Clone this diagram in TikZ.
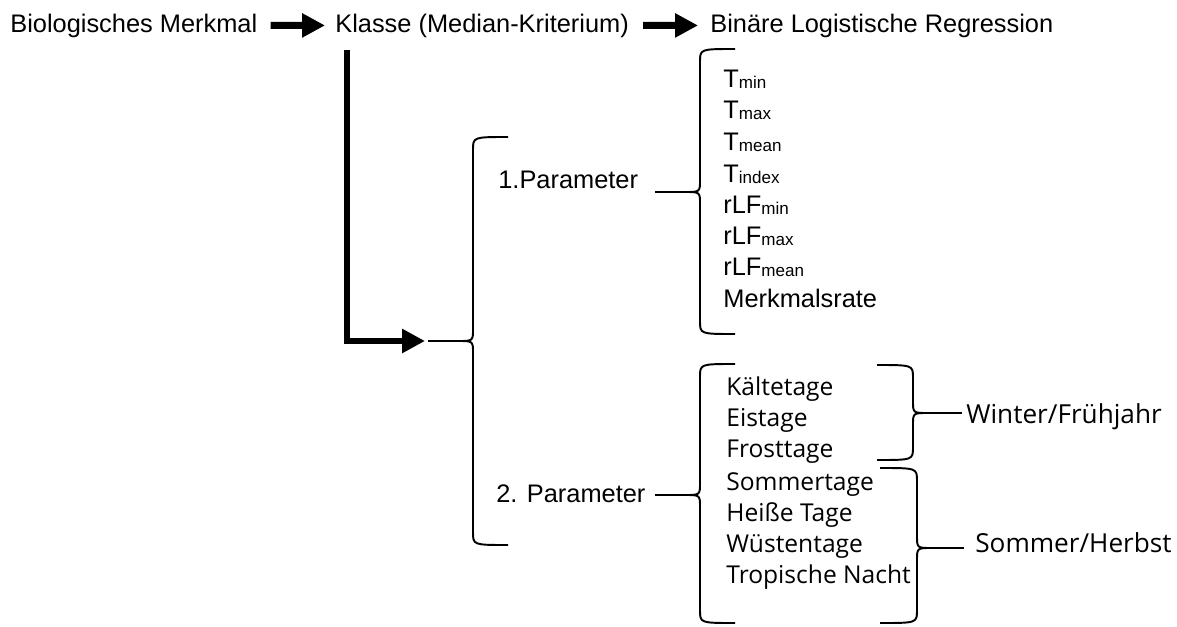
\documentclass[tikz,border=0pt]{standalone}
\usepackage{fontspec}
\setmainfont{Liberation Sans}
\newfontfamily\tagefont{Open Sans}
\usetikzlibrary{arrows.meta}
\newcommand{\subtxt}[1]{\raisebox{-1pt}{\fontsize{9.7}{10}\selectfont #1}}
\tikzset{
  txt/.style={anchor=base west, inner sep=0pt, font=\fontsize{14.45}{16}\selectfont},
  liste/.style={anchor=base west, inner sep=0pt, font=\tagefont\fontsize{14}{16}\selectfont},
  saison/.style={anchor=base west, inner sep=0pt, font=\tagefont\fontsize{14.9}{17}\selectfont},
  klammer/.style={line width=1.1pt, line join=round},
  pfeil/.style={line width=4pt, -{Triangle[length=0.46cm, width=0.46cm]}},
}
\begin{document}
\begin{tikzpicture}[x=0.02cm, y=-0.02cm]
    \useasboundingbox (0, 0) rectangle (1177, 626);

        % top row
        \node[txt] (bio) at (10, 32) {Biologisches Merkmal};
        \node[txt] (klasse) at (335, 32) {Klasse (Median-Kriterium)};
        \node[txt] (binaer) at (710, 32) {Binäre Logistische Regression};
        \draw[pfeil, shorten <=0.26cm, shorten >=0.2cm] (bio.east) to (klasse.west);
        \draw[pfeil, shorten <=0.28cm, shorten >=0.24cm] (klasse.east) to (binaer.west);

        % elbow arrow to the big brace
        \coordinate (knick0) at (347, 50);
        \coordinate (spitze0) at (428, 341);
        \draw[pfeil, line width=3.4pt, shorten >=0.06cm] (knick0) |- (spitze0);

        % big brace
        \draw[klammer] (508, 137) .. controls (473, 137) .. (473, 150) -- (473, 329)
            .. controls (473, 341) .. (458, 341) .. controls (473, 341) .. (473, 353)
            -- (473, 532) .. controls (473, 545) .. (508, 545);
        \draw[klammer] (spitze0) -- (458, 341);

        \node[txt] (para1) at (498, 188) {1.Parameter};
        \node[txt] (para2) at (496, 502) {2. Parameter};

        % brace for 1.Parameter
        \coordinate (spitze1) at (655, 192);
        \draw[klammer] (735, 49) .. controls (700, 49) .. (700, 62) -- (700, 180)
            .. controls (700, 192) .. (685, 192) .. controls (700, 192) .. (700, 204)
            -- (700, 321) .. controls (700, 334) .. (735, 334);
        \draw[klammer] (spitze1) -- (685, 192);

        \node[txt] (tmin) at (723, 87) {T\subtxt{min}};
        \node[txt] (tmax) at (723, 118) {T\subtxt{max}};
        \node[txt] (tmean) at (723, 150) {T\subtxt{mean}};
        \node[txt] (tindex) at (723, 182) {T\subtxt{index}};
        \node[txt] (rlfmin) at (723, 213) {rLF\subtxt{min}};
        \node[txt] (rlfmax) at (723, 244) {rLF\subtxt{max}};
        \node[txt] (rlfmean) at (723, 275) {rLF\subtxt{mean}};
        \node[txt] (rate) at (723, 307) {Merkmalsrate};

        % brace for 2. Parameter
        \coordinate (spitze2) at (655, 495);
        \draw[klammer] (735, 364) .. controls (700, 364) .. (700, 377) -- (700, 483)
            .. controls (700, 495) .. (685, 495) .. controls (700, 495) .. (700, 507)
            -- (700, 610) .. controls (700, 623) .. (735, 623);
        \draw[klammer] (spitze2) -- (685, 495);

        \node[liste] (kalt) at (726, 395) {Kältetage};
        \node[liste] (eis) at (726, 426) {Eistage};
        \node[liste] (frost) at (726, 457) {Frosttage};
        \node[liste] (sommer) at (726, 490) {Sommertage};
        \node[liste] (heiss) at (726, 521) {Heiße Tage};
        \node[liste] (wueste) at (726, 552) {Wüstentage};
        \node[liste] (tropen) at (726, 583) {Tropische Nacht};

        % right braces
        \coordinate (spitzeW) at (962, 413);
        \draw[klammer] (877, 365) .. controls (913, 365) .. (913, 378) -- (913, 401)
            .. controls (913, 413) .. (928, 413) .. controls (913, 413) .. (913, 425)
            -- (913, 447) .. controls (913, 460) .. (877, 460);
        \draw[klammer] (928, 413) -- (spitzeW);
        \node[saison] (winter) at (966, 423) {Winter/Frühjahr};

        \coordinate (spitzeS) at (964, 548);
        \draw[klammer] (880, 468) .. controls (917, 468) .. (917, 481) -- (917, 536)
            .. controls (917, 548) .. (932, 548) .. controls (917, 548) .. (917, 560)
            -- (917, 610) .. controls (917, 623) .. (880, 623);
        \draw[klammer] (932, 548) -- (spitzeS);
        \node[saison] (herbst) at (975, 552) {Sommer/Herbst};
    \end{tikzpicture}
\end{document}
